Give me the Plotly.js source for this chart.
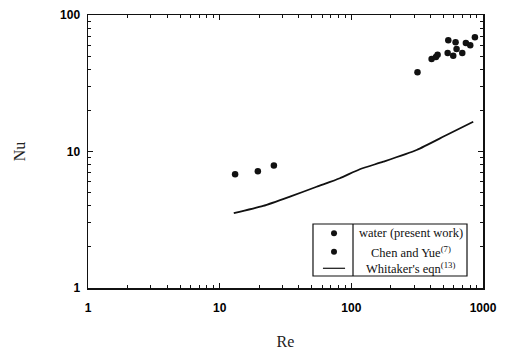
<!DOCTYPE html>
<html>
<head>
<meta charset="utf-8">
<script src="https://cdn.plot.ly/plotly-3.0.1.min.js"></script>
<style>html,body{margin:0;padding:0;background:#fff;}#chart{width:508px;height:352px;}</style>
</head>
<body>
<div id="chart"></div>
<script>
// Data
var waterRe = [318, 407, 439, 452, 545, 619, 539, 594, 630, 696, 741, 800, 868];
var waterNu = [38.0, 47.6, 49.2, 51.2, 65.3, 63.1, 52.7, 50.3, 56.3, 52.7, 62.4, 60.0, 68.7];
var chenRe = [13.1, 19.5, 25.8];
var chenNu = [6.8, 7.16, 7.9];
var whitRe = [12.8, 21.4, 34.2, 54.5, 81.8, 116, 175, 313, 529, 843];
var whitNu = [3.53, 3.99, 4.67, 5.52, 6.37, 7.41, 8.42, 10.26, 13.2, 16.5];
var tickVals = [1, 10, 100, 1000];
var tickText = ['1', '10', '100', '1000'];
var legendLabels = ['water (present work)', 'Chen and Yue<sup>(7)</sup>', "Whitaker's eqn<sup>(13)</sup>"];

// minor tick positions: 2..9 within each decade
function minorTicks(decades) {
  var v = [];
  for (var d = 0; d < decades; d++) {
    for (var m = 2; m <= 9; m++) v.push(m * Math.pow(10, d));
  }
  return v;
}

var traces = [
  {x: whitRe, y: whitNu, mode: 'lines', line: {color: '#111', width: 1.8, shape: 'spline', smoothing: 0.6}, showlegend: false, hoverinfo: 'skip'},
  {x: waterRe, y: waterNu, mode: 'markers', marker: {color: '#111', size: 6.5}, showlegend: false},
  {x: chenRe, y: chenNu, mode: 'markers', marker: {color: '#111', size: 6.5}, showlegend: false}
];

function axisCommon(decades) {
  return {
    type: 'log',
    tickmode: 'array',
    tickvals: tickVals,
    ticktext: tickText,
    ticks: 'inside',
    ticklen: 5,
    tickwidth: 1,
    tickcolor: '#111',
    showline: true,
    linecolor: '#111',
    linewidth: 1.5,
    mirror: 'allticks',
    showgrid: false,
    zeroline: false,
    tickfont: {family: 'Liberation Sans, Arial, sans-serif', size: 12, color: '#000', weight: 'bold'},
    minor: {tickmode: 'array', tickvals: minorTicks(decades), ticks: 'inside', ticklen: 3, tickwidth: 1, tickcolor: '#111', showgrid: false}
  };
}

var xaxis = Object.assign(axisCommon(3), {
  range: [0, 3],
  ticklabelstandoff: 8,
  title: {text: 'Re', font: {family: 'Liberation Serif, serif', size: 16, color: '#222'}, standoff: 22}
});
var yaxis = Object.assign(axisCommon(2), {
  range: [0, 2],
  ticklabelstandoff: 4,
  title: {text: 'Nu', font: {family: 'Liberation Serif, serif', size: 16, color: '#222'}, standoff: 30}
});

// legend box geometry (paper coords)
var bx0 = 0.5696, bx1 = 0.9595, by0 = 0.044, by1 = 0.2344, bdiv = 0.6709;
var rowsY = [0.2004, 0.133, 0.0722];
var symX = 0.6228, textX = 0.8177;
var shapes = [
  {type: 'rect', xref: 'paper', yref: 'paper', x0: bx0, x1: bx1, y0: by0, y1: by1, line: {color: '#111', width: 1.2}, fillcolor: 'white'},
  {type: 'line', xref: 'paper', yref: 'paper', x0: bdiv, x1: bdiv, y0: by0, y1: by1, line: {color: '#111', width: 1.2}},
  {type: 'circle', xref: 'paper', yref: 'paper', x0: symX - 0.0076, x1: symX + 0.0076, y0: rowsY[0] - 0.011, y1: rowsY[0] + 0.011, fillcolor: '#111', line: {width: 0}},
  {type: 'circle', xref: 'paper', yref: 'paper', x0: symX - 0.0076, x1: symX + 0.0076, y0: rowsY[1] - 0.011, y1: rowsY[1] + 0.011, fillcolor: '#111', line: {width: 0}},
  {type: 'line', xref: 'paper', yref: 'paper', x0: symX - 0.028, x1: symX + 0.028, y0: rowsY[2], y1: rowsY[2], line: {color: '#111', width: 1.2}}
];
var annotations = legendLabels.map(function (t, i) {
  return {xref: 'paper', yref: 'paper', x: textX, y: rowsY[i], text: t, showarrow: false, xanchor: 'center', yanchor: 'middle',
    font: {family: 'Liberation Serif, serif', size: 12.5, color: '#111'}};
});

var layout = {
  width: 508, height: 352,
  margin: {l: 88, r: 25, t: 15, b: 64},
  paper_bgcolor: '#fff', plot_bgcolor: '#fff',
  xaxis: xaxis, yaxis: yaxis,
  shapes: shapes, annotations: annotations,
  showlegend: false
};
Plotly.newPlot('chart', traces, layout, {displayModeBar: false, staticPlot: true});
</script>
</body>
</html>
